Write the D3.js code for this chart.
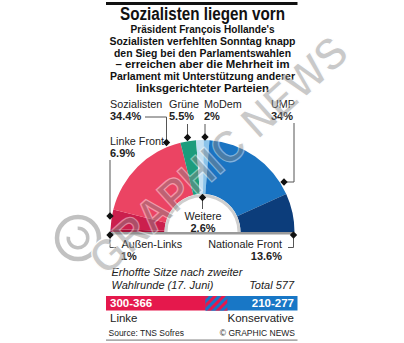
<!DOCTYPE html>
<html><head><meta charset="utf-8">
<script src="https://cdn.jsdelivr.net/npm/d3@7"></script>
<style>
html,body{margin:0;padding:0;background:#fff;}
svg{display:block;font-family:"Liberation Sans",Arial,Helvetica,sans-serif;}
</style></head>
<body><svg id="c" width="404" height="343"></svg>
<script>
// ---- data ----
const parties = ["Außen-Links","Linke Front","Sozialisten","Grüne","Weitere","MoDem","UMP","Nationale Front"];
const shares  = [1, 6.9, 34.4, 5.5, 2.6, 2, 34, 13.6];
const shareLabels = ["1%","6.9%","34.4%","5.5%","2.6%","2%","34%","13.6%"];
const partyColors = ["#a3133a","#cb1f4d","#eb4463","#1d9c7c","#c4e0f2","#8cc4ea","#1a74c2","#0c3d7b"];
const totalSeats = 577;
const blocs = ["Linke","Konservative"];
const seatLow = [300, 210];
const seatHigh = [366, 277];
const title = "Sozialisten liegen vorn";
const subtitle = ["Präsident François Hollande's","Sozialisten verfehlten Sonntag knapp","den Sieg bei den Parlamentswahlen","–  erreichen aber die Mehrheit im","Parlament mit Unterstützung anderer","linksgerichteter Parteien"];

const svg = d3.select("#c");
const cx = 202.5, cy = 232, R = 92, r0 = 38;

// top rule
svg.append("rect").attr("x",106).attr("y",2).attr("width",191.5).attr("height",3).attr("fill","#111");

// title
const subW = [144,186,177,174,185,133];
svg.append("text").attr("x",cx).attr("y",20).attr("text-anchor","middle")
  .attr("font-size",18).attr("font-weight","bold").attr("fill","#111")
  .attr("textLength",165).attr("lengthAdjust","spacingAndGlyphs").text(title);
subtitle.forEach((s,i)=>{
  svg.append("text").attr("x",cx).attr("y",33+i*11.8).attr("text-anchor","middle")
    .attr("font-size",11.2).attr("font-weight","bold").attr("fill","#111")
    .attr("textLength",subW[i]).attr("lengthAdjust","spacingAndGlyphs").text(s);
});

// hemicycle
const pie = d3.pie().sort(null).value(d=>d).startAngle(-Math.PI/2).endAngle(Math.PI/2);
const arcs = pie(shares);
const arc = d3.arc().innerRadius(r0).outerRadius(R);
const g = svg.append("g").attr("transform",`translate(${cx},${cy})`);
g.append("rect").attr("x",-R+1).attr("y",0).attr("width",2*R-2).attr("height",2.5).attr("fill","#9a9a9a");
g.selectAll("path.s").data(arcs).join("path").attr("class","s")
  .attr("d",arc).attr("fill",(d,i)=>partyColors[i]);
g.append("path").attr("d",d3.arc().innerRadius(r0-3).outerRadius(r0).startAngle(-Math.PI/2).endAngle(Math.PI/2)())
  .attr("fill","#cfcfcf");

// labels
const lab = [
  {i:2,x:110,y:108,a:"start"},
  {i:3,x:169,y:108,a:"start"},
  {i:5,x:204,y:108,a:"start"},
  {i:6,x:271,y:108,a:"start"},
  {i:1,x:110,y:145,a:"start"},
  {i:4,x:203,y:220,a:"middle"},
  {i:0,x:121.5,y:248,a:"start",px:121},
  {i:7,x:282,y:248,a:"end"}
];
lab.forEach(l=>{
  svg.append("text").attr("x",l.x).attr("y",l.y).attr("text-anchor",l.a)
    .attr("font-size",10.8).attr("fill","#222").text(parties[l.i]);
  svg.append("text").attr("x",l.px!==undefined?l.px:l.x).attr("y",l.y+12).attr("text-anchor",l.a)
    .attr("font-size",11).attr("font-weight","bold").attr("fill","#222").text(shareLabels[l.i]);
});

// leader lines and diamonds
const leaders = [
  {p:[[145,117],[166.5,117],[166.5,142.5]]},
  {p:[[187.5,124],[187.5,137.5]]},
  {p:[[205,124],[205,137]]},
  {p:[[294,123],[294,182],[284,182]]},
  {p:[[110,160],[110,216]]},
  {p:[[202.5,209],[202.5,197.5]]},
  {p:[[116,247.5],[110,247.5],[110,235]]},
  {p:[[288,247.5],[293.5,247.5],[293.5,235]]}
];
const line = d3.line();
leaders.forEach(l=>{
  svg.append("path").attr("d",line(l.p)).attr("fill","none").attr("stroke","#555").attr("stroke-width",1);
  const e = l.p[l.p.length-1];
  svg.append("rect").attr("x",-2.6).attr("y",-2.6).attr("width",5.2).attr("height",5.2)
    .attr("fill","#111").attr("transform",`translate(${e[0]},${e[1]}) rotate(45)`);
});

// bottom seats section
svg.append("text").attr("x",111.5).attr("y",276).attr("font-size",11).attr("font-style","italic").attr("fill","#222").text("Erhoffte Sitze nach zweiter");
svg.append("text").attr("x",111.5).attr("y",288.5).attr("font-size",11).attr("font-style","italic").attr("fill","#222").text("Wahlrunde (17. Juni)");
svg.append("text").attr("x",294).attr("y",288.5).attr("text-anchor","end").attr("font-size",11).attr("font-style","italic").attr("fill","#222").text("Total " + totalSeats);

const x = d3.scaleLinear().domain([0,totalSeats]).range([106,297.5]);
const defs = svg.append("defs");
const pat = defs.append("pattern").attr("id","hatch").attr("patternUnits","userSpaceOnUse")
  .attr("width",6).attr("height",6).attr("patternTransform","rotate(45)");
pat.append("rect").attr("width",6).attr("height",6).attr("fill","#1877c6");
pat.append("rect").attr("width",3).attr("height",6).attr("fill","#e5184c");

const by = 296, bh = 14.5;
svg.append("rect").attr("x",x(0)).attr("y",by).attr("width",x(seatHigh[0])-x(0)).attr("height",bh).attr("fill","#e5184c");
svg.append("rect").attr("x",x(totalSeats-seatHigh[1])).attr("y",by).attr("width",x(totalSeats)-x(totalSeats-seatHigh[1])).attr("height",bh).attr("fill","#1877c6");
const ov0 = Math.max(totalSeats-seatHigh[1], 0), ov1 = Math.min(seatHigh[0], totalSeats-seatLow[1]);
svg.append("rect").attr("x",x(ov0)).attr("y",by).attr("width",x(ov1)-x(ov0)).attr("height",bh).attr("fill","url(#hatch)");
svg.append("rect").attr("x",x(seatHigh[0])).attr("y",by).attr("width",x(totalSeats-seatLow[1])-x(seatHigh[0])).attr("height",bh).attr("fill","#1877c6");

svg.append("text").attr("x",110).attr("y",307).attr("font-size",11.5).attr("font-weight","bold").attr("fill","#fff").text(seatLow[0]+"-"+seatHigh[0]);
svg.append("text").attr("x",294).attr("y",307).attr("text-anchor","end").attr("font-size",11.5).attr("font-weight","bold").attr("fill","#fff").text(seatLow[1]+"-"+seatHigh[1]);
svg.append("text").attr("x",110).attr("y",322).attr("font-size",11.5).attr("fill","#222").text(blocs[0]);
svg.append("text").attr("x",294).attr("y",322).attr("text-anchor","end").attr("font-size",11.5).attr("fill","#222").text(blocs[1]);

svg.append("text").attr("x",108.5).attr("y",336).attr("font-size",8.5).attr("fill","#222").text("Source: TNS Sofres");
svg.append("text").attr("x",295).attr("y",336).attr("text-anchor","end").attr("font-size",8.5).attr("fill","#222").text("© GRAPHIC NEWS");
svg.append("rect").attr("x",106).attr("y",339.5).attr("width",191.5).attr("height",1.2).attr("fill","#888");

// watermark
const wm = svg.append("g").attr("opacity",0.45).attr("pointer-events","none");
wm.append("circle").attr("cx",78).attr("cy",238).attr("r",21).attr("fill","none").attr("stroke","#777").attr("stroke-width",4.5);
wm.append("path").attr("d",d3.arc().innerRadius(8).outerRadius(11.5).startAngle(0.7).endAngle(2*Math.PI-0.7)())
  .attr("transform","translate(78,238) rotate(-42)").attr("fill","#777");
wm.append("text").attr("transform","translate(106,277) rotate(-42)")
  .attr("font-size",45).attr("font-weight","bold").attr("fill","#888").attr("stroke","#fff").attr("stroke-width",1.2)
  .attr("textLength",330).attr("lengthAdjust","spacingAndGlyphs").text("GRAPHIC NEWS");
</script></body></html>
